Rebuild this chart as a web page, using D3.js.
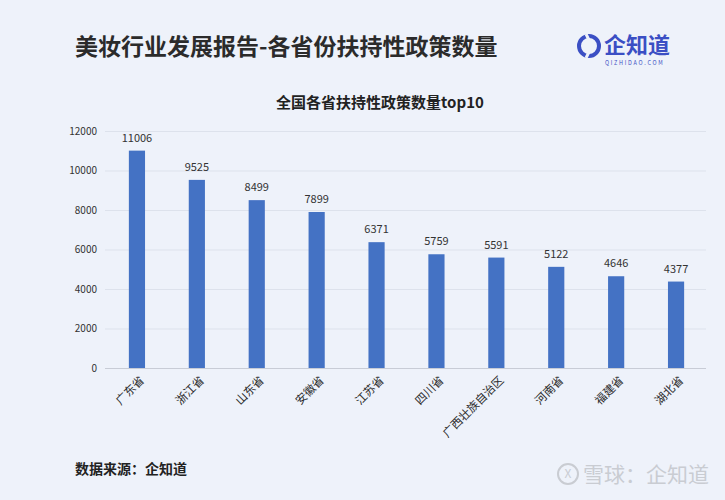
<!DOCTYPE html>
<html>
<head>
<meta charset="utf-8">
<script src="https://cdn.jsdelivr.net/npm/d3@7"></script>
<style>
  body { margin: 0; background: #eef2fa; }
  text { font-family: "Noto Sans CJK SC", "Noto Sans", sans-serif; }
</style>
</head>
<body>
<div id="container"></div>
<script>
let w = 725;
let h = 500;

// DATA
let provinces = ["广东省", "浙江省", "山东省", "安徽省", "江苏省", "四川省", "广西壮族自治区", "河南省", "福建省", "湖北省"];
let counts = [11006, 9525, 8499, 7899, 6371, 5759, 5591, 5122, 4646, 4377];
let yTicks = [0, 2000, 4000, 6000, 8000, 10000, 12000];

let viz = d3.select("#container").append("svg")
    .attr("width", w)
    .attr("height", h)
    .style("background-color", "#eef2fa")
;

// TITLES
viz.append("text")
    .attr("x", 75).attr("y", 55)
    .attr("font-size", 23).attr("font-weight", "bold")
    .attr("fill", "#2b2b2b")
    .text("美妆行业发展报告-各省份扶持性政策数量");

// logo
let logo = viz.append("g").attr("transform", "translate(589,46)");
logo.append("circle").attr("r", 10).attr("fill", "none").attr("stroke", "#3b4fc4").attr("stroke-width", 4);
logo.append("path").attr("d", "M-3,-12 L3,0 L-3,12").attr("fill", "none").attr("stroke", "#eef2fa").attr("stroke-width", 3);
viz.append("text")
    .attr("x", 604).attr("y", 53)
    .attr("font-size", 22).attr("font-weight", "bold")
    .attr("fill", "#3b4fc4")
    .text("企知道");
viz.append("text")
    .attr("x", 605).attr("y", 65)
    .attr("font-size", 5.5).attr("letter-spacing", 1.7)
    .attr("fill", "#3b4fc4")
    .text("QIZHIDAO.COM");

viz.append("text")
    .attr("x", 380).attr("y", 108)
    .attr("text-anchor", "middle")
    .attr("font-size", 15).attr("font-weight", "bold")
    .attr("fill", "#222")
    .text("全国各省扶持性政策数量top10");

// SCALES
let xScale = d3.scaleBand().domain(provinces).range([107, 706]).paddingInner(0.73).paddingOuter(0.365);
let yScale = d3.scaleLinear().domain([0, 12000]).range([368, 131]);

// GRID + Y AXIS
let yAxis = d3.axisLeft(yScale).tickValues(yTicks).tickFormat(d3.format("d")).tickSize(-(706 - 105)).tickPadding(8);
let yG = viz.append("g").attr("transform", "translate(105,0)").call(yAxis);
yG.select(".domain").remove();
yG.selectAll(".tick line").attr("stroke", "#dde2ec");
yG.selectAll(".tick text").attr("font-size", 10).attr("fill", "#333");
yG.selectAll(".tick").filter(function(d) { return d == 0; }).select("line").attr("stroke", "#c8ccd6");

// BARS
viz.selectAll(".bar").data(counts).enter()
  .append("rect")
    .attr("class", "bar")
    .attr("x", function(d, i) { return xScale(provinces[i]); })
    .attr("y", function(d) { return yScale(d); })
    .attr("width", xScale.bandwidth())
    .attr("height", function(d) { return yScale(0) - yScale(d); })
    .attr("fill", "#4472c4")
;

// VALUE LABELS
viz.selectAll(".val").data(counts).enter()
  .append("text")
    .attr("class", "val")
    .attr("x", function(d, i) { return xScale(provinces[i]) + xScale.bandwidth() / 2; })
    .attr("y", function(d) { return yScale(d) - 9; })
    .attr("text-anchor", "middle")
    .attr("font-size", 11)
    .attr("fill", "#333")
    .text(function(d) { return d; })
;

// X AXIS LABELS (rotated)
let xAxis = d3.axisBottom(xScale).tickSize(0).tickPadding(0);
let xG = viz.append("g").attr("transform", "translate(0,368)").call(xAxis);
xG.select(".domain").remove();
xG.selectAll(".tick text")
    .attr("font-size", 11.5)
    .attr("fill", "#2b2b2b")
    .attr("text-anchor", "end")
    .attr("dy", 0)
    .attr("transform", "translate(8,13) rotate(-45)");

// FOOTER
viz.append("text")
    .attr("x", 75).attr("y", 474)
    .attr("font-size", 14).attr("font-weight", "bold")
    .attr("fill", "#222")
    .text("数据来源：企知道");

viz.append("circle").attr("cx", 568).attr("cy", 474).attr("r", 10)
    .attr("fill", "none").attr("stroke", "#c9ccd2").attr("stroke-width", 2);
viz.append("text")
    .attr("x", 568).attr("y", 478).attr("text-anchor", "middle")
    .attr("font-size", 12).attr("fill", "#c9ccd2").text("X");
viz.append("text")
    .attr("x", 583).attr("y", 482)
    .attr("font-size", 21)
    .attr("fill", "#c9ccd2")
    .text("雪球：企知道");
</script>
</body>
</html>
